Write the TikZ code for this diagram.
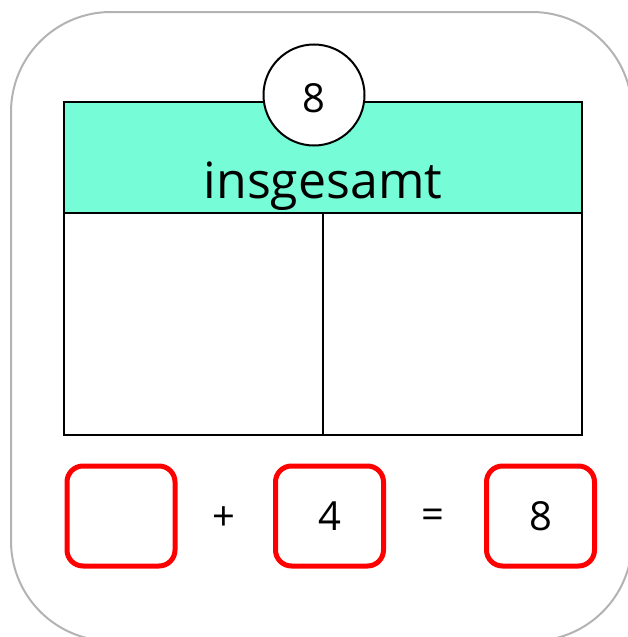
\documentclass[tikz,border=0pt]{standalone}
\usepackage{fontspec}
\setmainfont{Open Sans}
\definecolor{mint}{HTML}{76FDD7}
\definecolor{framegray}{HTML}{B3B3B3}
\definecolor{boxred}{HTML}{FF0000}
\begin{document}
\begin{tikzpicture}[x=1pt,y=-1pt,
  cellbox/.style={draw=black,line width=2pt,rectangle,inner sep=0pt,outer sep=0pt},
  totalcircle/.style={draw=black,line width=2pt,fill=white,circle,inner sep=0pt,minimum size=101pt},
  answerbox/.style={draw=boxred,line width=5pt,rounded corners=16pt,rectangle,inner sep=0pt,minimum width=108pt,minimum height=100pt},
  bigtext/.style={inner sep=0pt,font=\fontsize{40}{48}\selectfont},
  labeltext/.style={inner sep=0pt,font=\fontsize{50}{60}\selectfont}]
\useasboundingbox (0,0) rectangle (628,637);
\clip (0,0) rectangle (628,637);
\draw[framegray,line width=2pt,rounded corners=100pt] (11,12) rectangle (632,641);
% table
\node[cellbox,fill=mint,minimum width=518pt,minimum height=111pt] (header) at (323,157.5) {};
\node[cellbox,minimum width=259pt,minimum height=222pt] (leftcell) at (193.5,324) {};
\node[cellbox,minimum width=259pt,minimum height=222pt] (rightcell) at (452.5,324) {};
\node[labeltext,anchor=base] (label) at (323,198) {insgesamt};
\node[totalcircle] (total) at (314,95) {};
\node[bigtext] (totalnum) at (314,98.5) {8};
% equation
\node[answerbox] (boxa) at (121,516) {};
\node[answerbox] (boxb) at (329.5,516) {};
\node[answerbox] (boxc) at (540.5,516) {};
\node[bigtext] (plus) at (224,519) {+};
\node[bigtext] (equals) at (433,519) {=};
\node[bigtext] (numb) at (329.5,516) {4};
\node[bigtext] (numc) at (540.5,516) {8};
\end{tikzpicture}
\end{document}
